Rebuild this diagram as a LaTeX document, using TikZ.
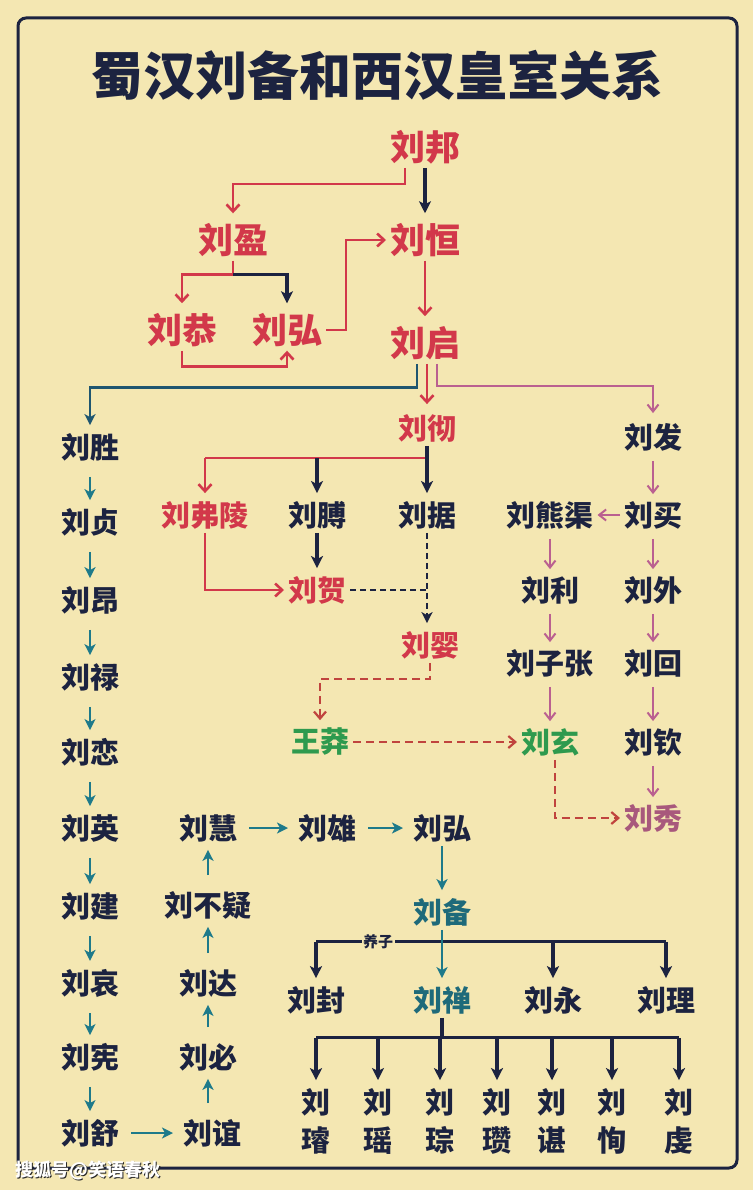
\documentclass[tikz,border=0pt]{standalone}
\usepackage{fontspec}
\newfontfamily\cjk{Noto Sans CJK SC}
\usetikzlibrary{arrows.meta,calc}
\definecolor{bg}{HTML}{F4E7B2}
\definecolor{navy}{HTML}{1C2340}
\definecolor{redc}{HTML}{D2384A}
\definecolor{tealc}{HTML}{1E7A8A}
\definecolor{tealdk}{HTML}{1F5670}
\definecolor{tealtx}{HTML}{1E6A7A}
\definecolor{mauve}{HTML}{BA6090}
\definecolor{greenc}{HTML}{2E9A4E}
\definecolor{xiuc}{HTML}{A8587C}
\definecolor{brred}{HTML}{C0443E}
\tikzset{
  nm/.style={font=\cjk\bfseries\fontsize{29}{29}\selectfont, text=navy, inner sep=1pt, outer sep=3pt},
  bignm/.style={nm, font=\cjk\bfseries\fontsize{35}{35}\selectfont},
  rdn/.style={text=redc},
  grn/.style={text=greenc},
  tln/.style={text=tealtx},
  vert/.style={nm, align=center, font=\cjk\bfseries\fontsize{29}{38}\selectfont},
  arnavy/.style={draw=navy, line width=3.2pt, -{Stealth[length=12pt,width=12pt,inset=3pt]}},
  lnnavy/.style={draw=navy, line width=3.2pt},
  arred/.style={draw=redc, line width=2.6pt, -{Straight Barb[length=7pt,width=13pt]}},
  lnred/.style={draw=redc, line width=2.6pt},
  armauve/.style={draw=mauve, line width=2pt, -{Straight Barb[length=7pt,width=11pt]}},
  arteal/.style={draw=tealc, line width=2.8pt, -{Stealth[length=11pt,width=11pt,inset=3pt]}},
  dashnavy/.style={draw=navy, line width=2.8pt, dash pattern=on 6pt off 4pt},
  dashred/.style={draw=brred, line width=2.2pt, dash pattern=on 8pt off 5pt, -{Straight Barb[length=7pt,width=12pt]}},
}
\begin{document}
\begin{tikzpicture}[x=1pt,y=-1pt]
\fill[bg] (0,0) rectangle (753,1190);
\useasboundingbox (0,0) rectangle (753,1190);
\draw[navy, line width=3pt, rounded corners=8pt] (18,18) rectangle (737,1168);
\node[font=\cjk\bfseries\fontsize{52}{52}\selectfont, text=navy] (title) at (377,75) {蜀汉刘备和西汉皇室关系};

% top
\node[bignm,rdn] (bang) at (425,147) {刘邦};
\node[bignm,rdn] (ying) at (233,240) {刘盈};
\node[bignm,rdn] (heng) at (425,240) {刘恒};
\node[bignm,rdn] (gong) at (182,330) {刘恭};
\node[bignm,rdn] (hongA) at (287,330) {刘弘};
\node[bignm,rdn] (qi) at (425,343) {刘启};

% left chain
\node[nm] (sheng) at (90,447) {刘胜};
\node[nm] (zhen) at (90,522) {刘贞};
\node[nm] (ang) at (90,600) {刘昂};
\node[nm] (lu) at (90,677) {刘禄};
\node[nm] (lian) at (90,752) {刘恋};
\node[nm] (yingB) at (90,828) {刘英};
\node[nm] (jian) at (90,906) {刘建};
\node[nm] (ai) at (90,983) {刘哀};
\node[nm] (xian) at (90,1057) {刘宪};
\node[nm] (shu) at (90,1133) {刘舒};

% middle
\node[nm,rdn] (che) at (427,428) {刘彻};
\node[nm,rdn] (fuling) at (205,515) {刘弗陵};
\node[nm] (bo) at (317,515) {刘膊};
\node[nm] (ju) at (427,515) {刘据};
\node[nm,rdn] (he) at (317,590) {刘贺};
\node[nm,rdn] (yingz) at (430,645) {刘婴};
\node[nm,grn] (mang) at (320,742) {王莽};

% right
\node[nm] (fa) at (653,437) {刘发};
\node[nm] (xiongqu) at (550,515) {刘熊渠};
\node[nm] (mai) at (653,515) {刘买};
\node[nm] (li) at (550,590) {刘利};
\node[nm] (wai) at (653,590) {刘外};
\node[nm] (zizhang) at (550,663) {刘子张};
\node[nm] (hui) at (653,663) {刘回};
\node[nm,grn] (xuan) at (550,742) {刘玄};
\node[nm] (qin) at (653,742) {刘钦};
\node[nm,text=xiuc] (xiu) at (653,818) {刘秀};

% second chain
\node[nm] (huiz) at (208,828) {刘慧};
\node[nm] (buyi) at (208,905) {刘不疑};
\node[nm] (da) at (208,983) {刘达};
\node[nm] (bi) at (208,1057) {刘必};
\node[nm] (yi) at (212,1133) {刘谊};
\node[nm] (xiong) at (327,828) {刘雄};
\node[nm] (hongB) at (442,828) {刘弘};
\node[nm,tln] (bei) at (442,912) {刘备};

% Liu Bei's sons
\node[nm] (feng) at (316,1000) {刘封};
\node[nm,tln] (shan) at (442,1000) {刘禅};
\node[nm] (yong) at (553,1000) {刘永};
\node[nm] (lizi) at (666,1000) {刘理};

% Liu Shan's sons
\node[vert] (s1) at (316,1121) {刘\\璿};
\node[vert] (s2) at (378,1121) {刘\\瑶};
\node[vert] (s3) at (440,1121) {刘\\琮};
\node[vert] (s4) at (497,1121) {刘\\瓒};
\node[vert] (s5) at (552,1121) {刘\\谌};
\node[vert] (s6) at (612,1121) {刘\\恂};
\node[vert] (s7) at (679,1121) {刘\\虔};

% ---- connectors: top
\draw[arnavy] (bang.south) -- ([yshift=6pt]heng.north);
\draw[arred] ([xshift=-20pt]bang.south) -- ++(0,16) -| ([yshift=6pt]ying.north);
\draw[lnred] (ying.south) -- ++(0,14) coordinate (yb);
\draw[arred] (yb) -| ([yshift=6pt]gong.north);
\draw[arnavy] (yb) -| ([yshift=6pt]hongA.north);
\draw[arred] (hongA.east) -- ++(20,0) |- (heng.west);
\draw[arred] (gong.south) -- ++(0,16) -| (hongA.south);
\draw[arred] (heng.south) -- ([yshift=6pt]qi.north);

% from Liu Qi
\draw[draw=tealdk, line width=2.8pt, -{Stealth[length=11pt,width=11pt,inset=3pt]}] ([xshift=-8pt]qi.south) -- ++(0,24) -| ([yshift=4pt]sheng.north);
\draw[arred] ([xshift=2pt]qi.south) -- ([xshift=2pt,yshift=6pt]qi.south |- che.north);
\draw[armauve] ([xshift=12pt]qi.south) -- ++(0,22) -| ([yshift=6pt]fa.north);

% from Liu Che
\path (che.south) ++(0,12) coordinate (cb);
\draw[lnred] (cb) -- (cb -| fuling);
\draw[arred] (cb -| fuling) -- ([yshift=4pt]fuling.north);
\draw[arnavy] (che.south) -- ([yshift=4pt]ju.north);
\draw[arnavy] (cb -| bo) -- ([yshift=4pt]bo.north);
\draw[arred] (fuling.south) |- (he.west);
\draw[arnavy] (bo.south) -- ([yshift=4pt]he.north);
\draw[dashnavy] (he.east) -- (he.east -| ju.south);
\draw[dashnavy, -{Stealth[length=11pt,width=11pt,inset=3pt]}] (ju.south) -- ([yshift=4pt]ju.south |- yingz.north);
\draw[dashred] (yingz.south) -- ++(0,16) -| ([yshift=4pt]mang.north);
\draw[dashred] (mang.east) -- (xuan.west);
\draw[dashred] ([xshift=5pt]xuan.south) |- (xiu.west);

% right branch
\begin{scope}[shorten <=6pt, shorten >=3pt]
\draw[armauve] (fa) -- (mai);
\draw[armauve] (xiongqu) -- (li);
\draw[armauve] (mai) -- (wai);
\draw[armauve] (li) -- (zizhang);
\draw[armauve] (wai) -- (hui);
\draw[armauve] (zizhang) -- (xuan);
\draw[armauve] (hui) -- (qin);
\draw[armauve] (qin) -- (xiu);
\end{scope}
\draw[armauve] (mai) -- (xiongqu);

% left chain
\begin{scope}[shorten <=12pt, shorten >=4pt]
\draw[arteal] (sheng) -- (zhen);
\draw[arteal] (zhen) -- (ang);
\draw[arteal] (ang) -- (lu);
\draw[arteal] (lu) -- (lian);
\draw[arteal] (lian) -- (yingB);
\draw[arteal] (yingB) -- (jian);
\draw[arteal] (jian) -- (ai);
\draw[arteal] (ai) -- (xian);
\draw[arteal] (xian) -- (shu);
\draw[arteal] (yi.north -| bi) -- (bi);
\draw[arteal] (bi) -- (da);
\draw[arteal] (da) -- (buyi);
\draw[arteal] (buyi) -- (huiz);
\end{scope}
\begin{scope}[shorten <=8pt, shorten >=6pt]
\draw[arteal] (shu) -- (yi);
\draw[arteal] (huiz) -- (xiong);
\draw[arteal] (xiong) -- (hongB);
\end{scope}
\draw[arteal] (hongB) -- ([yshift=4pt]bei.north);

% Liu Bei -> sons
\path (bei.south) ++(0,12) coordinate (bb);
\draw[lnnavy] (bb -| feng) -- (bb -| lizi);
\draw[arnavy] (bb -| feng) -- ([yshift=4pt]feng.north);
\draw[arnavy] (bb -| yong) -- ([yshift=4pt]yong.north);
\draw[arnavy] (bb -| lizi) -- ([yshift=4pt]lizi.north);
\draw[arteal] (bei.south) -- ([yshift=4pt]shan.north);
\node[font=\cjk\bfseries\fontsize{15}{15}\selectfont, text=navy, fill=bg, inner sep=1.5pt] (yangzi) at (378,942) {养子};

% Liu Shan -> sons
\path (shan.south) ++(0,20) coordinate (sb);
\draw[lnnavy] (shan.south) -- (sb);
\draw[lnnavy] (sb -| s1) -- (sb -| s7);
\foreach \s in {s1,s2,s3,s4,s5,s6,s7}
  \draw[arnavy] (sb -| \s) -- ([yshift=4pt]\s.north);

% watermark
\node[font=\cjk\bfseries\fontsize{18}{18}\selectfont, text=black!85, anchor=west] (wmshadow) at (13.2,1171.2) {搜狐号@笑语春秋};
\node[font=\cjk\bfseries\fontsize{18}{18}\selectfont, text=white, anchor=west] (wm) at (12,1170) {搜狐号@笑语春秋};
\end{tikzpicture}
\end{document}
